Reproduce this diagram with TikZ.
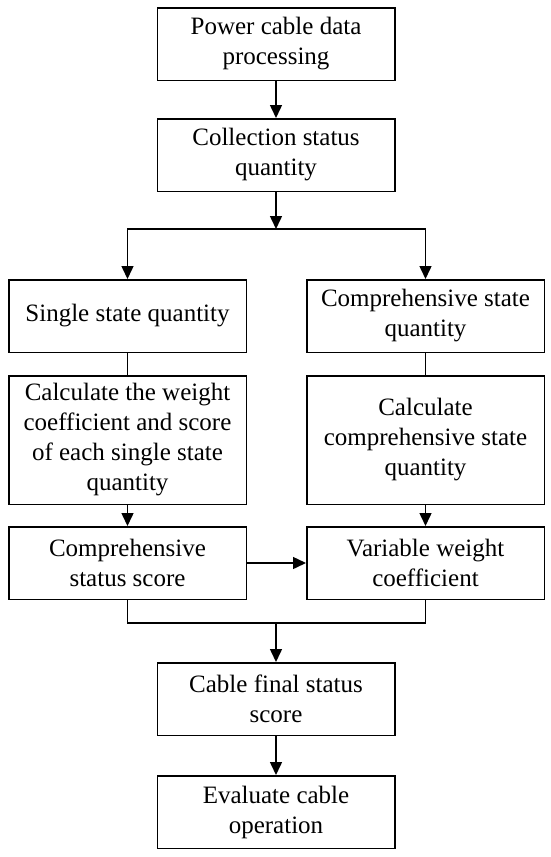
\documentclass[tikz,border=0pt]{standalone}
\usepackage{fontspec}
\setmainfont{Liberation Serif}
\usetikzlibrary{arrows.meta,positioning}

\begin{document}
\begin{tikzpicture}[x=1pt,y=1pt,line width=1.5pt,
    box/.style={draw,rectangle,minimum width=237.5pt,minimum height=72.5pt,
      inner sep=2pt,align=center,font=\fontsize{25pt}{30pt}\selectfont},
    arr/.style={-{Triangle[length=13pt,width=12pt]}}]
      \useasboundingbox (0,0) rectangle (550,-857);
      \begin{scope}[every node/.style={box}]
        \node (proc) at (276,-44) {Power cable data\\processing};
        \node (coll) [below=37pt of proc] {Collection status\\quantity};
        \node (single) [below=87pt of coll,xshift=-148.5pt] {Single state quantity};
        \node (comp) [right=59pt of single] {Comprehensive state\\quantity};
        \node (calcw) [below=22pt of single,minimum height=128.5pt]
          {Calculate the weight\\coefficient and score\\of each single state\\quantity};
        \node (calcc) [below=22pt of comp,minimum height=128.5pt]
          {Calculate\\comprehensive state\\quantity};
        \node (score) [below=21pt of calcw] {Comprehensive\\status score};
        \node (varw) [below=21pt of calcc] {Variable weight\\coefficient};
        \node (final) [below=62pt of score,xshift=148.5pt] {Cable final status\\score};
        \node (eval) [below=39pt of final] {Evaluate cable\\operation};
      \end{scope}
      \coordinate [below=37pt of coll] (split);
      \coordinate [above=39pt of final] (merge);
      \begin{scope}[every edge/.style={draw,arr}]
        \path (proc) edge (coll);
        \path (coll) edge (split);
        \path (calcw) edge (score);
        \path (calcc) edge (varw);
        \path (score) edge (varw);
        \path (merge) edge (final);
        \path (final) edge (eval);
      \end{scope}
      \draw[arr] (split) -| (single);
      \draw[arr] (split) -| (comp);
      \draw (single) -- (calcw);
      \draw (comp) -- (calcc);
      \draw (score) |- (merge) -| (varw);
    \end{tikzpicture}
\end{document}
